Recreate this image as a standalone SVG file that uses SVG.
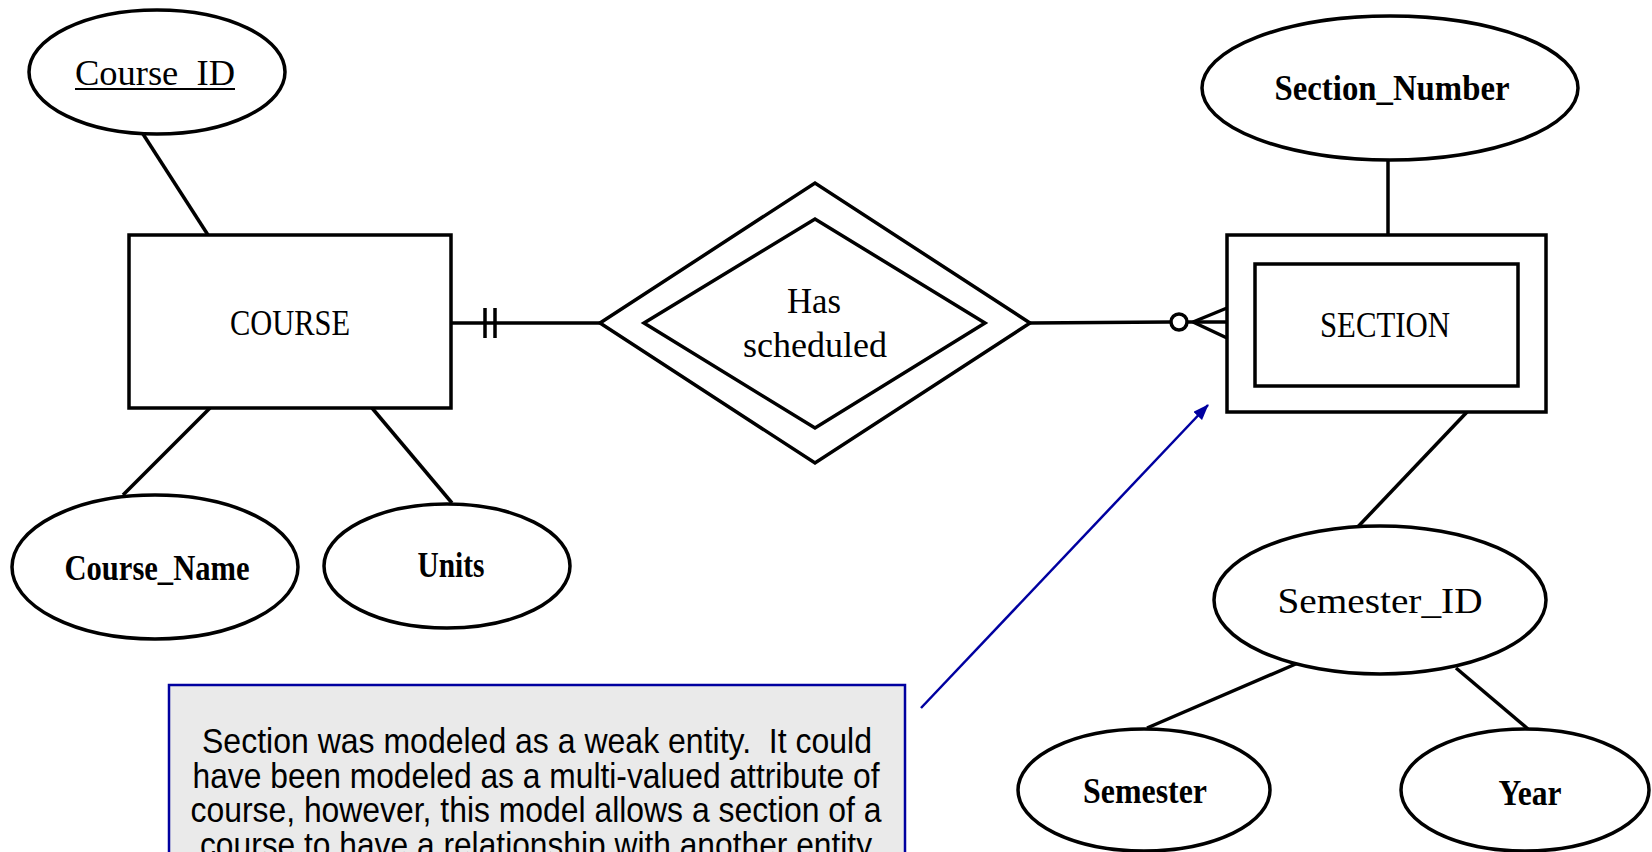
<svg xmlns="http://www.w3.org/2000/svg" width="1652" height="852" viewBox="0 0 1652 852">
<style>
.shape{fill:#fff;stroke:#000;stroke-width:3.5}
.ln{fill:none;stroke:#000;stroke-width:3.5}
.lbl{font-family:"Liberation Serif","Times New Roman",serif;font-size:35px;fill:#000;text-anchor:middle}
.b{font-weight:bold}
.note{font-family:"Liberation Sans",Arial,sans-serif;font-size:35px;fill:#000;text-anchor:middle}
</style>
<defs>
<marker id="ah" viewBox="0 0 16 12" refX="15" refY="6" markerWidth="16" markerHeight="12" markerUnits="userSpaceOnUse" orient="auto">
<path d="M0,0 L16,6 L0,12 z" fill="#0000A0"/>
</marker>
</defs>
<rect width="1652" height="852" fill="#fff"/>
<g id="connectors">
<line class="ln" x1="143" y1="134" x2="208" y2="235"/>
<line class="ln" x1="210" y1="408" x2="123" y2="495"/>
<line class="ln" x1="372" y1="408" x2="452" y2="503"/>
<line class="ln" x1="452" y1="323" x2="600" y2="323"/>
<line class="ln" x1="485" y1="308" x2="485" y2="338"/>
<line class="ln" x1="495" y1="308" x2="495" y2="338"/>
<line class="ln" x1="1030" y1="323" x2="1170" y2="322"/>
<circle class="shape" cx="1179" cy="322" r="8"/>
<line class="ln" x1="1187" y1="322" x2="1227" y2="322"/>
<line class="ln" x1="1193" y1="322" x2="1227" y2="308"/>
<line class="ln" x1="1193" y1="322" x2="1227" y2="338"/>
<line class="ln" x1="1388" y1="160" x2="1388" y2="235"/>
<line class="ln" x1="1467" y1="412" x2="1352" y2="533"/>
<line class="ln" x1="1298" y1="663" x2="1147" y2="728"/>
<line class="ln" x1="1456" y1="668" x2="1528" y2="729"/>
<line x1="921" y1="708" x2="1208" y2="405" stroke="#0000A0" stroke-width="2.5" marker-end="url(#ah)"/>
</g>
<g id="course_id">
<ellipse class="shape" cx="157" cy="72" rx="128" ry="62"/>
<text class="lbl" x="155" y="85" textLength="160" lengthAdjust="spacingAndGlyphs">Course_ID</text>
<line x1="75" y1="89" x2="235" y2="89" stroke="#000" stroke-width="2"/>
</g>
<g id="course">
<rect class="shape" x="129" y="235" width="322" height="173"/>
<text class="lbl" x="290" y="335" textLength="120" lengthAdjust="spacingAndGlyphs">COURSE</text>
</g>
<g id="course_name">
<ellipse class="shape" cx="155" cy="567" rx="143" ry="72"/>
<text class="lbl b" x="157" y="580" textLength="185" lengthAdjust="spacingAndGlyphs">Course_Name</text>
</g>
<g id="units">
<ellipse class="shape" cx="447" cy="566" rx="123" ry="62"/>
<text class="lbl b" x="451" y="577" textLength="67" lengthAdjust="spacingAndGlyphs">Units</text>
</g>
<g id="has_scheduled">
<polygon class="shape" points="600,323 815,183 1030,323 815,463"/>
<polygon class="shape" points="644,323 815,219 985,323 815,428"/>
<text class="lbl" x="814" y="313" textLength="54" lengthAdjust="spacingAndGlyphs">Has</text>
<text class="lbl" x="815" y="357" textLength="144" lengthAdjust="spacingAndGlyphs">scheduled</text>
</g>
<g id="section">
<rect class="shape" x="1227" y="235" width="319" height="177"/>
<rect class="shape" x="1255" y="264" width="263" height="122"/>
<text class="lbl" x="1385" y="337" textLength="130" lengthAdjust="spacingAndGlyphs">SECTION</text>
</g>
<g id="section_number">
<ellipse class="shape" cx="1390" cy="88" rx="188" ry="72"/>
<text class="lbl b" x="1392" y="100" textLength="235" lengthAdjust="spacingAndGlyphs">Section_Number</text>
</g>
<g id="semester_id">
<ellipse class="shape" cx="1380" cy="600" rx="166" ry="74"/>
<text class="lbl" x="1380" y="613" textLength="205" lengthAdjust="spacingAndGlyphs">Semester_ID</text>
</g>
<g id="semester">
<ellipse class="shape" cx="1144" cy="790" rx="126" ry="61"/>
<text class="lbl b" x="1145" y="803" textLength="124" lengthAdjust="spacingAndGlyphs">Semester</text>
</g>
<g id="year">
<ellipse class="shape" cx="1525" cy="790" rx="124" ry="61"/>
<text class="lbl b" x="1530" y="805" textLength="63" lengthAdjust="spacingAndGlyphs">Year</text>
</g>
<g id="note">
<rect x="169" y="685" width="736" height="180" fill="#EAEAEA" stroke="#0000A0" stroke-width="2.5"/>
<text class="note" x="537" y="753" xml:space="preserve" textLength="670" lengthAdjust="spacingAndGlyphs">Section was modeled as a weak entity.  It could</text>
<text class="note" x="536" y="788" textLength="687" lengthAdjust="spacingAndGlyphs">have been modeled as a multi-valued attribute of</text>
<text class="note" x="536" y="822" textLength="691" lengthAdjust="spacingAndGlyphs">course, however, this model allows a section of a</text>
<text class="note" x="536" y="857" textLength="672" lengthAdjust="spacingAndGlyphs">course to have a relationship with another entity</text>
</g>
</svg>
